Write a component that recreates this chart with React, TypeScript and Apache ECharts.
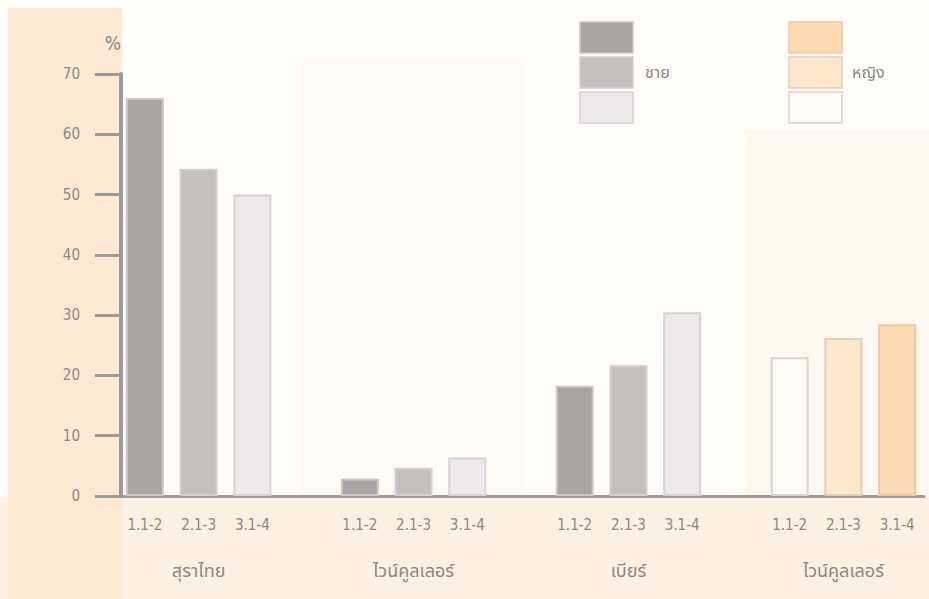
import React, { useEffect, useRef } from "react";
import * as echarts from "echarts";

// Age bands shown under every bar group
const ageBands = ["1.1-2", "2.1-3", "3.1-4"];
// Drink groups along the x axis
const drinkGroups = ["สุราไทย", "ไวน์คูลเลอร์", "เบียร์", "ไวน์คูลเลอร์"];
// Percentages per age band
const thaiSpiritsMen = [66, 54.3, 50];
const wineCoolerMen = [2.9, 4.7, 6.4];
const beerMen = [18.3, 21.7, 30.5];
const wineCoolerWomen = [23, 26.2, 28.5];
// Value axis
const yMin = 0;
const yMax = 70;
const yStep = 10;
// Legend captions
const menCaption = "ชาย";
const womenCaption = "หญิง";

// Shades per age band (1.1-2, 2.1-3, 3.1-4)
const menShades = ["#a8a6a4", "#c3c1c0", "#ebe9e9"];
const menEdges = ["#cbc9c7", "#d2d0cf", "#d6d4d4"];
const womenShades = ["#fffaf3", "#fee8cd", "#fddab3"];
const womenEdges = ["#ddd3c8", "#e3cfb8", "#e8cbaa"];

const groupValues = [thaiSpiritsMen, wineCoolerMen, beerMen, wineCoolerWomen];
const groupIsWomen = [false, false, false, true];

const numFont = "'Liberation Sans Narrow', 'DejaVu Sans Condensed', 'Liberation Sans', sans-serif";
const thaiFont = "'Noto Sans Thai', 'Loma', 'Garuda', 'Norasi', 'Noto Sans', 'DejaVu Sans', sans-serif";
const textGray = "#8c8883";
const axisGray = "#9d9b99";

// Build category slots: three bars per group with an empty slot between groups
const slotLabels: string[] = [];
const groupLabelSlots: string[] = [];
const barData: any[] = [];
groupValues.forEach((vals, g) => {
  vals.forEach((v, i) => {
    slotLabels.push(ageBands[i]);
    groupLabelSlots.push(i === 1 ? drinkGroups[g] : "");
    const women = groupIsWomen[g];
    barData.push({
      value: v,
      itemStyle: {
        color: women ? womenShades[i] : menShades[i],
        borderColor: women ? womenEdges[i] : menEdges[i],
        borderWidth: 2,
      },
    });
  });
  if (g < groupValues.length - 1) {
    slotLabels.push("");
    groupLabelSlots.push("");
    barData.push("-");
  }
});

function legendColumn(x: number, shades: string[], edges: string[], caption: string, textX: number) {
  const boxes = shades.map((c, i) => ({
    type: "rect",
    shape: { x, y: 22 + i * 35, width: 53, height: 31 },
    style: { fill: c, stroke: edges[i], lineWidth: 1.5 },
    z: 5,
  }));
  return [
    ...boxes,
    {
      type: "text",
      x: textX,
      y: 73,
      style: {
        text: caption,
        fill: textGray,
        font: `16px ${thaiFont}`,
        verticalAlign: "middle",
      },
      z: 5,
    },
  ];
}

export default function App() {
  const ref = useRef<HTMLDivElement>(null);

  useEffect(() => {
    if (!ref.current) return;
    const chart = echarts.init(ref.current, undefined, { renderer: "svg" });
    chart.setOption({
      animation: false,
      backgroundColor: "#fffdf9",
      graphic: [
        // soft paper tones behind the plot
        { type: "rect", shape: { x: 300, y: 60, width: 222, height: 440 }, style: { fill: "#fffaf3" }, z: -10 },
        { type: "rect", shape: { x: 745, y: 130, width: 184, height: 370 }, style: { fill: "#fef8f0" }, z: -10 },
        { type: "rect", shape: { x: 0, y: 498, width: 929, height: 101 }, style: { fill: "#fdf1e3" }, z: -9 },
        { type: "rect", shape: { x: 8, y: 8, width: 114, height: 591 }, style: { fill: "#fde9d4" }, z: -8 },
        ...legendColumn(580, [menShades[0], menShades[1], menShades[2]], menEdges, menCaption, 645),
        ...legendColumn(789, [womenShades[2], womenShades[1], womenShades[0]], [womenEdges[2], womenEdges[1], womenEdges[0]], womenCaption, 852),
      ],
      grid: { left: 118, right: 5, top: 74, bottom: 103, containLabel: false },
      xAxis: [
        {
          type: "category",
          data: slotLabels,
          position: "bottom",
          axisLine: { show: true, lineStyle: { color: axisGray, width: 3 } },
          axisTick: { show: false },
          axisLabel: {
            interval: 0,
            margin: 21,
            color: textGray,
            fontSize: 15,
            fontFamily: numFont,
          },
          splitLine: { show: false },
        },
        {
          type: "category",
          data: groupLabelSlots,
          position: "bottom",
          axisLine: { show: false },
          axisTick: { show: false },
          axisLabel: {
            interval: 0,
            margin: 66,
            color: textGray,
            fontSize: 18,
            fontFamily: thaiFont,
          },
          splitLine: { show: false },
        },
      ],
      yAxis: {
        type: "value",
        min: yMin,
        max: yMax,
        interval: yStep,
        offset: -3,
        name: "%",
        nameLocation: "end",
        nameGap: 22,
        nameTextStyle: { color: textGray, fontSize: 19, fontFamily: numFont, align: "right" },
        axisLine: { show: true, lineStyle: { color: axisGray, width: 4 } },
        axisTick: { show: true, length: 26, lineStyle: { color: axisGray, width: 3 } },
        axisLabel: { margin: 41, color: textGray, fontSize: 15, fontFamily: numFont },
        splitLine: { show: false },
      },
      series: [
        {
          type: "bar",
          xAxisIndex: 0,
          data: barData,
          barWidth: 38,
        },
      ],
    });
    return () => chart.dispose();
  }, []);

  return (
    <div
      ref={ref}
      style={{ position: "fixed", left: 0, top: 0, width: 929, height: 599 }}
    />
  );
}
